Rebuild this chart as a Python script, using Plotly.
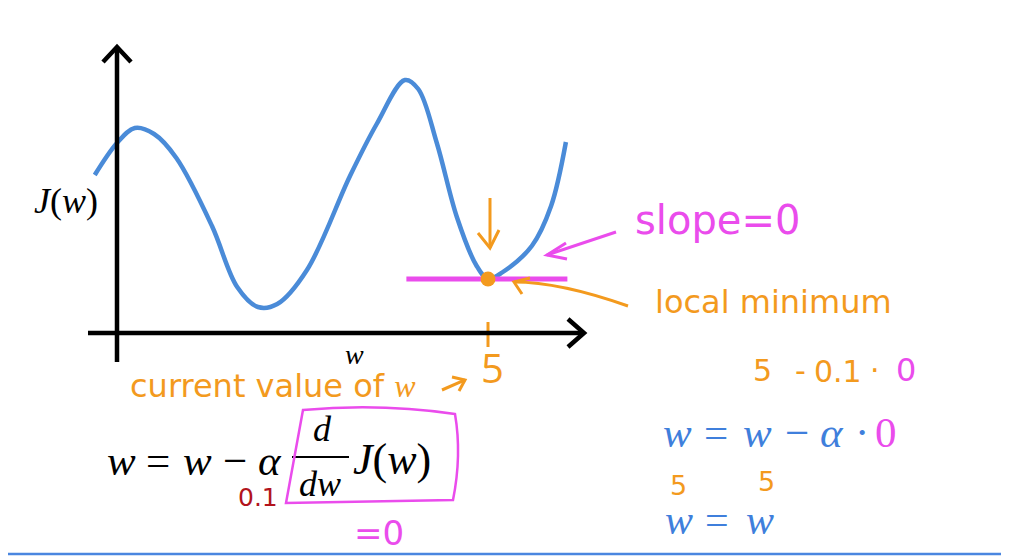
import plotly.graph_objects as go

# ---------------- data ----------------
w_values = [-0.30, 0.0, 0.24, 0.50, 0.80, 1.28, 1.62, 1.90, 2.16, 2.56, 3.14, 3.50,
            3.88, 4.06, 4.31, 4.58, 4.84, 5.0, 5.20, 5.59, 5.85, 6.05]
J_values = [3.16, 3.80, 4.10, 3.98, 3.50, 2.14, 0.92, 0.52, 0.58, 1.26, 3.14, 4.18,
            5.06, 4.88, 3.80, 2.32, 1.36, 1.08, 1.22, 1.74, 2.54, 3.82]
w_current = 5
J_current = 1.08
slope_line_w = [3.9, 6.07]
tick_labels = ["5"]

# ---------------- geometry (pixel <-> data) ----------------
W, H = 1009, 556          # screenshot size
OFF = 8                   # default page (body) margin
FW, FH = W - OFF, H - OFF # figure size
X0, Y0 = 117, 333         # screenshot pixel position of the origin
SX, SY = 74.2, 50.0       # pixels per unit


def P(px, py):
    return (px - OFF) / FW, 1 - (py - OFF) / FH


def path(pts, closed=False):
    s = ""
    for i, (px, py) in enumerate(pts):
        x, y = P(px, py)
        s += ("M" if i == 0 else "L") + f"{x:.5f},{y:.5f} "
    if closed:
        s += "Z"
    return s


BLUE = "#4a8bd8"
ORANGE = "#f39a1e"
PINK = "#ea4cec"
DRED = "#b2141c"
TBLUE = "#3f7fdc"
SERIF = "Liberation Serif"
SANS = "DejaVu Sans"

fig = go.Figure()

# cost curve
fig.add_trace(go.Scatter(x=w_values, y=J_values, mode="lines",
                         line=dict(color=BLUE, width=4.5, shape="spline", smoothing=1.0),
                         hoverinfo="skip"))
# tangent (slope = 0)
fig.add_trace(go.Scatter(x=slope_line_w, y=[J_current, J_current], mode="lines",
                         line=dict(color=PINK, width=5), hoverinfo="skip"))
# current point
fig.add_trace(go.Scatter(x=[w_current], y=[J_current], mode="markers",
                         marker=dict(color=ORANGE, size=15, line=dict(width=0)),
                         hoverinfo="skip"))
# tick at w = 5
fig.add_trace(go.Scatter(x=[w_current, w_current], y=[0.22, -0.28], mode="lines",
                         line=dict(color=ORANGE, width=3), hoverinfo="skip"))

shapes = []


def seg(pts, color, width):
    shapes.append(dict(type="path", xref="paper", yref="paper", path=path(pts),
                       line=dict(color=color, width=width)))


# axes
seg([(117, 362), (117, 47)], "black", 4.5)
seg([(103, 62), (117, 47), (131, 62)], "black", 4.5)
seg([(88, 333), (584, 333)], "black", 4.5)
seg([(568, 319), (584, 333), (568, 347)], "black", 4.5)

# orange down arrow above the minimum
seg([(490, 198), (490, 248)], ORANGE, 3)
seg([(478, 233), (490, 248), (499, 230)], ORANGE, 3)

# pink arrow (slope=0)
seg([(616, 232), (547, 255)], PINK, 3)
seg([(566, 243), (547, 255), (567, 259)], PINK, 3)

# orange arrow (local minimum)
x1, y1 = P(628, 306)
xc, yc = P(560, 282)
x2, y2 = P(514, 282)
shapes.append(dict(type="path", xref="paper", yref="paper",
                   path=f"M{x1:.5f},{y1:.5f} Q{xc:.5f},{yc:.5f} {x2:.5f},{y2:.5f}",
                   line=dict(color=ORANGE, width=3)))
seg([(530, 278), (514, 282), (522, 294)], ORANGE, 3)

# orange small arrow near "current value of w"
seg([(442, 390), (465, 380)], ORANGE, 3)
seg([(452, 377), (465, 380), (459, 391)], ORANGE, 3)

# fraction bar
seg([(292, 457), (349, 457)], "black", 2)

# pink hand drawn box
a = P(303, 410); b = P(380, 403); c = P(455, 414)
d = P(462, 455); e = P(453, 500); g = P(286, 503)
shapes.append(dict(type="path", xref="paper", yref="paper",
                   path=(f"M{a[0]:.5f},{a[1]:.5f} Q{b[0]:.5f},{b[1]:.5f} {c[0]:.5f},{c[1]:.5f} "
                         f"Q{d[0]:.5f},{d[1]:.5f} {e[0]:.5f},{e[1]:.5f} "
                         f"L{g[0]:.5f},{g[1]:.5f} Z"),
                   line=dict(color=PINK, width=2.5)))

# bottom blue rule
seg([(8, 554), (1009, 554)], "#4a86e0", 2.5)

annotations = []


def txt(px, py, text, size, color, family, xanchor="center"):
    x, y = P(px, py)
    annotations.append(dict(x=x, y=y, xref="paper", yref="paper", text=text, showarrow=False,
                            xanchor=xanchor, yanchor="middle",
                            font=dict(size=size, color=color, family=family)))


def tokens(items, py, size, color, family=SERIF):
    for px, t in items:
        txt(px, py, t, size, color, family)


txt(32, 201, "<i>J</i>(<i>w</i>)", 36, "black", SERIF, "left")
txt(354, 354, "<i>w</i>", 28, "black", SERIF)
txt(492, 367, tick_labels[0], 40, ORANGE, "Open Sans")
txt(128, 386, "current value of <i style='font-family:Liberation Serif'>w</i>", 32, ORANGE, SANS, "left")

# main formula  w = w − α d/dw J(w)
tokens([(121, "<i>w</i>"), (158, "="), (197, "<i>w</i>"), (235, "−"), (270, "<i>α</i>")],
       460, 43, "black")
txt(322, 429, "<i>d</i>", 36, "black", SERIF)
txt(320, 484, "<i>dw</i>", 36, "black", SERIF)
txt(351, 459, "<i>J</i>(<i>w</i>)", 44, "black", SERIF, "left")
txt(258, 497, "0.1", 25, DRED, SANS)
txt(379, 533, "=0", 34, PINK, SANS)

# right-side annotations
txt(633, 220, "slope=0", 40, PINK, SANS, "left")
txt(653, 302, "local minimum", 32, ORANGE, SANS, "left")
txt(762, 370, "5", 30, ORANGE, SANS)
txt(800, 370, "-", 30, ORANGE, SANS)
txt(838, 371, "0.1", 30, ORANGE, SANS)
txt(875, 370, "·", 30, ORANGE, SANS)
txt(906, 370, "0", 32, PINK, SANS)

tokens([(677, "<i>w</i>"), (716, "="), (757, "<i>w</i>"), (797, "−"), (832, "<i>α</i>"),
        (862, "·")], 432, 43, TBLUE)
txt(886, 432, "0", 43, PINK, SERIF)
txt(678, 485, "5", 27, ORANGE, SANS)
txt(766, 481, "5", 27, ORANGE, SANS)
tokens([(679, "<i>w</i>"), (717, "="), (760, "<i>w</i>")], 520, 42, TBLUE)

fig.update_layout(
    width=FW, height=FH,
    margin=dict(l=0, r=0, t=0, b=0),
    paper_bgcolor="white", plot_bgcolor="white",
    showlegend=False,
    xaxis=dict(range=[(OFF - X0) / SX, (W - X0) / SX], visible=False, fixedrange=True),
    yaxis=dict(range=[(Y0 - H) / SY, (Y0 - OFF) / SY], visible=False, fixedrange=True),
    shapes=shapes, annotations=annotations,
)

fig.write_html("out.html")
